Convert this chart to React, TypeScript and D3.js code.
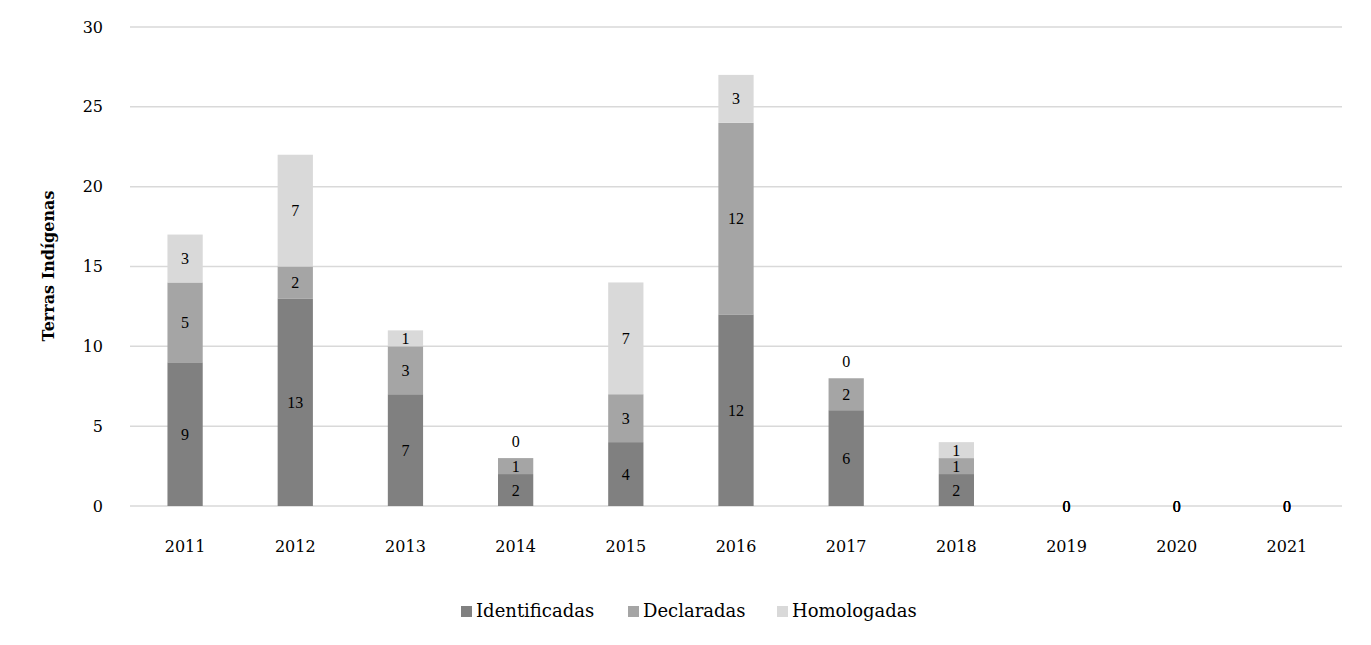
import React from "react";
import * as d3 from "d3";

const years = ["2011","2012","2013","2014","2015","2016","2017","2018","2019","2020","2021"];
const identificadas = [9, 13, 7, 2, 4, 12, 6, 2, 0, 0, 0];
const declaradas = [5, 2, 3, 1, 3, 12, 2, 1, 0, 0, 0];
const homologadas = [3, 7, 1, 0, 7, 3, 0, 1, 0, 0, 0];
const seriesNames = ["Identificadas", "Declaradas", "Homologadas"];
const seriesColors = ["#808080", "#a5a5a5", "#d9d9d9"];
const yTicks = [0, 5, 10, 15, 20, 25, 30];
const yTitle = "Terras Indígenas";

const W = 1371, H = 645;
const FONT = "'DejaVu Serif', 'Liberation Serif', serif";
const LFONT = "'Liberation Serif', serif";

export default function App() {
  const x = d3.scaleBand().domain(years).range([130, 1342]).paddingInner(0.68).paddingOuter(0.34);
  const y = d3.scaleLinear().domain([0, 30]).range([506, 27]);
  const rows = years.map((yr, i) => ({ year: yr, Identificadas: identificadas[i], Declaradas: declaradas[i], Homologadas: homologadas[i] }));
  const stack = d3.stack<any>().keys(seriesNames)(rows);
  const totals = rows.map((r) => r.Identificadas + r.Declaradas + r.Homologadas);
  const legendX = [461, 628, 777];

  return (
    <svg width={W} height={H} style={{ display: "block", position: "absolute", left: 0, top: 0 }}>
      <rect width={W} height={H} fill="#fff" />
      {yTicks.map((t) => (
        <g key={t}>
          <line x1={130} x2={1342} y1={y(t)} y2={y(t)} stroke="#d9d9d9" strokeWidth={1.5} />
          <text x={103} y={y(t)} dy="0.35em" textAnchor="end" fontFamily={FONT} fontSize={16} fill="#000">{t}</text>
        </g>
      ))}
      {stack.map((s, si) =>
        s.map((d, i) => {
          const v = d[1] - d[0];
          const bx = x(years[i])!;
          return v > 0 ? (
            <rect key={si + "-" + i} x={bx} y={y(d[1])} width={x.bandwidth()} height={y(d[0]) - y(d[1])} fill={seriesColors[si]} />
          ) : null;
        })
      )}
      {stack.map((s, si) =>
        s.map((d, i) => {
          const v = d[1] - d[0];
          const cx = x(years[i])! + x.bandwidth() / 2;
          let cy = y((d[0] + d[1]) / 2);
          if (v === 0 && totals[i] > 0) cy = y(totals[i]) - 17;
          return (
            <text key={"l" + si + "-" + i} x={cx} y={cy} dy="0.35em" textAnchor="middle" fontFamily={LFONT} fontSize={16} fill="#000">{v}</text>
          );
        })
      )}
      {years.map((yr) => (
        <text key={yr} x={x(yr)! + x.bandwidth() / 2} y={546} dy="0.35em" textAnchor="middle" fontFamily={FONT} fontSize={16} fill="#000">{yr}</text>
      ))}
      <text transform={`translate(48,266) rotate(-90)`} textAnchor="middle" dy="0.35em" fontFamily={FONT} fontSize={16} fontWeight="bold" fill="#000">{yTitle}</text>
      {seriesNames.map((n, i) => (
        <g key={n}>
          <rect x={legendX[i]} y={606} width={11} height={11} fill={seriesColors[i]} />
          <text x={legendX[i] + 15} y={611} dy="0.35em" fontFamily={FONT} fontSize={18} fill="#000">{n}</text>
        </g>
      ))}
    </svg>
  );
}
